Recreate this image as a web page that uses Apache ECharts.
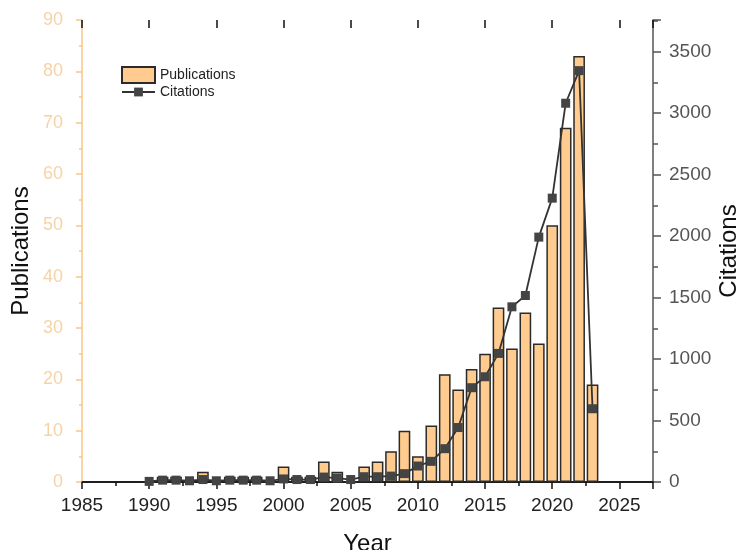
<!DOCTYPE html>
<html>
<head>
<meta charset="utf-8">
<title>Publications and Citations</title>
<script src="https://cdn.jsdelivr.net/npm/echarts@6/dist/echarts.min.js"></script>
<style>
	html, body { margin: 0; padding: 0; background: #fff; }
	#chart { width: 740px; height: 550px; }
</style>
</head>
<body>
<div id="chart"></div>
<script>
// years 1990 - 2023
var years = [1990, 1991, 1992, 1993, 1994, 1995, 1996, 1997, 1998, 1999,
	2000, 2001, 2002, 2003, 2004, 2005, 2006, 2007, 2008, 2009,
	2010, 2011, 2012, 2013, 2014, 2015, 2016, 2017, 2018, 2019,
	2020, 2021, 2022, 2023];
var publications = [0, 1, 1, 0, 2, 0, 1, 1, 1, 0,
	3, 1, 1, 4, 2, 0, 3, 4, 6, 10,
	5, 11, 21, 18, 22, 25, 34, 26, 33, 27,
	50, 69, 83, 19];
var citations = [5, 15, 15, 10, 20, 10, 15, 15, 15, 10,
	25, 20, 20, 40, 32, 20, 43, 43, 48, 68,
	130, 168, 271, 443, 767, 856, 1046, 1425, 1517, 1992,
	2309, 3081, 3346, 596];

var FONT = 'Liberation Sans, Arial, sans-serif';

var Chart = {
	init: function() {
		this.chart = echarts.init(document.getElementById('chart'));
		this.chart.setOption(this.option());
	},
	pairs: function(vals) {
		var out = [];
		for(var i = 0; i < years.length; i++) {
			out.push([years[i], vals[i]]);
		}
		return out;
	},
	option: function() {
		var xBase = {
			type: 'value',
			min: 1985,
			max: 2027.5,
			splitLine: { show: false }
		};
		var legendText = { fontFamily: FONT, fontSize: 14, color: '#222' };
		return {
			animation: false,
			backgroundColor: '#fff',
			grid: { left: 82, right: 87, top: 20, bottom: 68, containLabel: false, outerBoundsMode: 'none' },
			//图例分两块，方框和折线标记大小不同
			legend: [{
				data: [{ name: 'Publications', icon: 'rect' }],
				left: 121,
				top: 66,
				padding: 0,
				itemWidth: 33,
				itemHeight: 16,
				textStyle: legendText
			}, {
				data: ['Citations'],
				left: 121,
				top: 85,
				padding: 0,
				itemWidth: 33,
				itemHeight: 11,
				textStyle: legendText
			}],
			xAxis: [
				// bottom, minor ticks + labels
				Object.assign({}, xBase, {
					position: 'bottom',
					interval: 2.5,
					name: 'Year',
					nameLocation: 'middle',
					nameGap: 50,
					nameMoveOverlap: false,
					nameTextStyle: { fontFamily: FONT, fontSize: 24, color: '#111' },
					axisLine: { lineStyle: { color: '#111', width: 1.5 } },
					axisTick: { inside: false, length: 4, lineStyle: { color: '#111', width: 1.5 } },
					axisLabel: {
						margin: 14,
						fontFamily: FONT,
						fontSize: 19,
						color: '#222',
						formatter: function(v) { return v % 5 === 0 ? String(v) : ''; }
					}
				}),
				// bottom, major ticks
				Object.assign({}, xBase, {
					position: 'bottom',
					interval: 5,
					axisLine: { show: false },
					axisTick: { inside: false, length: 7, lineStyle: { color: '#111', width: 1.5 } },
					axisLabel: { show: false }
				}),
				// top frame
				Object.assign({}, xBase, {
					position: 'top',
					interval: 2.5,
					axisLine: { lineStyle: { color: '#111', width: 1.5 } },
					axisTick: { inside: true, length: 3.5, lineStyle: { color: '#111', width: 1.5 } },
					axisLabel: { show: false }
				}),
				Object.assign({}, xBase, {
					position: 'top',
					interval: 5,
					axisLine: { show: false },
					axisTick: { inside: true, length: 8, lineStyle: { color: '#111', width: 1.5 } },
					axisLabel: { show: false }
				})
			],
			yAxis: [{
				type: 'value',
				position: 'left',
				min: 0,
				max: 90,
				interval: 10,
				name: 'Publications',
				nameLocation: 'middle',
				nameRotate: 90,
				nameGap: 49,
				nameMoveOverlap: false,
				nameTextStyle: { fontFamily: FONT, fontSize: 24, color: '#111' },
				splitLine: { show: false },
				axisLine: { show: true, lineStyle: { color: '#F8C887', width: 1.5 } },
				axisTick: { show: true, inside: false, length: 6, lineStyle: { color: '#F8C887', width: 1.5 } },
				minorTick: { show: true, splitNumber: 2, length: 3, lineStyle: { color: '#F8C887', width: 1.5 } },
				axisLabel: { margin: 19, fontFamily: FONT, fontSize: 18, color: '#F6D3A6' }
			}, {
				type: 'value',
				position: 'right',
				min: 0,
				max: 3758,
				interval: 250,
				name: 'Citations',
				nameLocation: 'middle',
				nameRotate: 90,
				nameGap: 64,
				nameMoveOverlap: false,
				nameTextStyle: { fontFamily: FONT, fontSize: 24, color: '#111' },
				splitLine: { show: false },
				axisLine: { show: true, lineStyle: { color: '#555', width: 1.5 } },
				axisTick: { show: true, length: 5, lineStyle: { color: '#555', width: 1.5 } },
				axisLabel: {
					margin: 16,
					fontFamily: FONT,
					fontSize: 19,
					color: '#555',
					formatter: function(v) { return v % 500 === 0 ? String(v) : ''; }
				}
			}, {
				type: 'value',
				position: 'right',
				min: 0,
				max: 3758,
				interval: 500,
				splitLine: { show: false },
				axisLine: { show: false },
				axisTick: { show: true, length: 8, lineStyle: { color: '#555', width: 1.5 } },
				axisLabel: { show: false }
			}],
			series: [{
				name: 'Publications',
				type: 'bar',
				xAxisIndex: 0,
				yAxisIndex: 0,
				barWidth: 11.7,
				itemStyle: { color: '#FFCB8E', borderColor: '#2b2b2b', borderWidth: 1.5 },
				data: this.pairs(publications)
			}, {
				name: 'Citations',
				type: 'line',
				xAxisIndex: 0,
				yAxisIndex: 1,
				symbol: 'rect',
				symbolSize: 9,
				itemStyle: { color: '#444' },
				lineStyle: { color: '#333', width: 1.8 },
				data: this.pairs(citations)
			}]
		};
	}
};

Chart.init();
</script>
</body>
</html>
